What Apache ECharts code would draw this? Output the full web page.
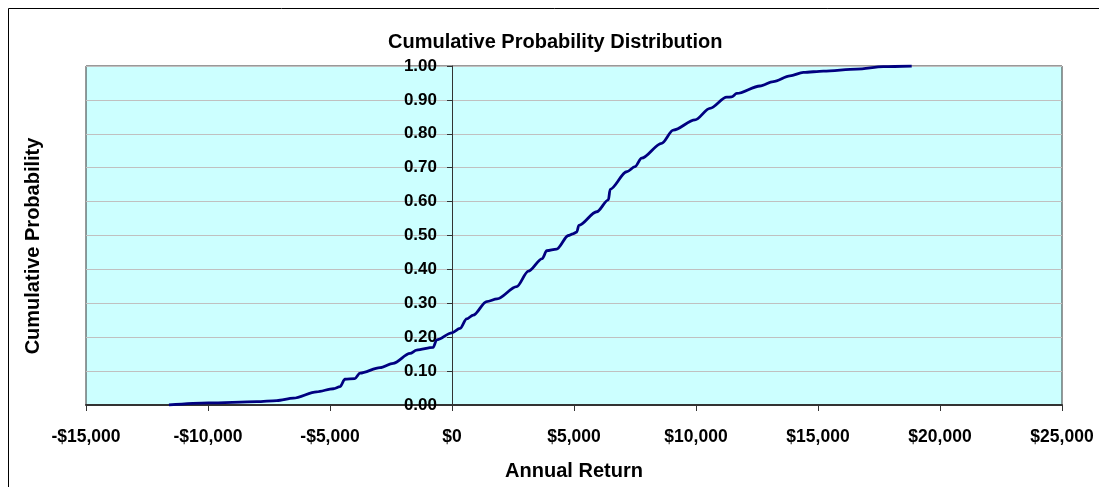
<!DOCTYPE html>
<html>
<head>
<meta charset="utf-8">
<script src="https://cdn.jsdelivr.net/npm/echarts@6/dist/echarts.min.js"></script>
<style>
  html, body { margin: 0; padding: 0; background: #fff; }
  #chart_cdf { width: 1099px; height: 487px; }
</style>
</head>
<body>
<div id="chart_cdf"></div>
<script>
// annual return ($) and cumulative probability
var annualReturn = [
  -11600, -9980, -8000, -7180, -6500, -5550, -4860, -4590, -4390, -3980,
  -3770, -2950, -2410, -1720, -1450, -770, -630, -10, 330, 600,
  870, 1420, 1850, 2650, 3130, 3700, 3880, 4290, 4770, 4950,
  5110, 5200, 5930, 6410, 6480, 7160, 7500, 7770, 8590, 9070,
  9960, 10570, 11260, 11460, 11670, 12620, 13170, 13850, 14400, 15220,
  16590, 17680, 18840
];
var cumProb = [
  0.000, 0.006, 0.010, 0.013, 0.020, 0.039, 0.048, 0.054, 0.076, 0.078,
  0.094, 0.110, 0.123, 0.152, 0.162, 0.170, 0.192, 0.213, 0.226, 0.254,
  0.265, 0.305, 0.313, 0.349, 0.395, 0.432, 0.455, 0.460, 0.500, 0.505,
  0.510, 0.530, 0.570, 0.605, 0.636, 0.688, 0.703, 0.728, 0.772, 0.811,
  0.841, 0.875, 0.908, 0.909, 0.919, 0.941, 0.954, 0.971, 0.981, 0.985,
  0.991, 0.998, 1.000
];

var xMin = -15000, xMax = 25000, xStep = 5000;
var yMin = 0, yMax = 1, yStep = 0.1;

var points = annualReturn.map(function (v, i) { return [v, cumProb[i]]; });

function money(v) { // -$5,000 style
  var s = Math.abs(v).toString().replace(/\B(?=(\d{3})+(?!\d))/g, ',');
  return (v < 0 ? '-$' : '$') + s;
}

var gridLeft = 86, gridRight = 37, chartW = 1099;
// y axis sits on x = 0: shift it in from the left edge of the grid
var plotW = chartW - gridLeft - gridRight;
var yAxisShift = -plotW * (0 - xMin) / (xMax - xMin);

var font = '"Liberation Sans", Arial, sans-serif';
var chart = echarts.init(document.getElementById('chart_cdf'));

chart.setOption({
  animation: false,
  backgroundColor: '#fff',
  title: {
    text: 'Cumulative Probability Distribution',
    left: 383, top: 27,
    textStyle: { fontFamily: font, fontSize: 20, fontWeight: 'bold', color: '#000' }
  },
  graphic: [
    { type: 'rect', shape: { x: 8.5, y: 8.5, width: 1200, height: 600 },
      style: { fill: 'none', stroke: '#000', lineWidth: 1 }, z: -1 },
    { type: 'text', x: 33, y: 246, rotation: Math.PI / 2,
      style: { text: 'Cumulative Probability', font: 'bold 20px ' + font, fill: '#000',
               align: 'center', verticalAlign: 'middle' } }
  ],
  grid: {
    left: gridLeft, top: 66, right: gridRight, bottom: 82,
    show: true, backgroundColor: '#CCFFFF', borderColor: '#333', borderWidth: 1,
    outerBoundsMode: 'none'
  },
  xAxis: {
    type: 'value', min: xMin, max: xMax, interval: xStep,
    name: 'Annual Return', nameLocation: 'middle', nameGap: 56,
    nameTextStyle: { fontFamily: font, fontSize: 20, fontWeight: 'bold', color: '#000' },
    axisLine: { onZero: false, lineStyle: { color: '#333', width: 2 } },
    axisTick: { show: true, length: 6, lineStyle: { color: '#333' } },
    axisLabel: { margin: 23, formatter: money,
                 fontFamily: font, fontSize: 17.5, fontWeight: 'bold', color: '#000' },
    splitLine: { show: false }
  },
  yAxis: {
    type: 'value', min: yMin, max: yMax, interval: yStep,
    offset: yAxisShift,
    axisLine: { show: true, onZero: false, lineStyle: { color: '#333', width: 1 } },
    axisTick: { show: true, length: 5, lineStyle: { color: '#333' } },
    axisLabel: { margin: 15, formatter: function (v) { return v.toFixed(2); },
                 fontFamily: font, fontSize: 17, fontWeight: 'bold', color: '#000' },
    splitLine: { show: true, lineStyle: { color: '#C0C0C0', width: 1 } }
  },
  series: [{
    type: 'line',
    data: points,
    showSymbol: false,
    smooth: 0.3,
    smoothMonotone: 'x',
    lineStyle: { color: '#000080', width: 2.8 }
  }]
});
</script>
</body>
</html>
